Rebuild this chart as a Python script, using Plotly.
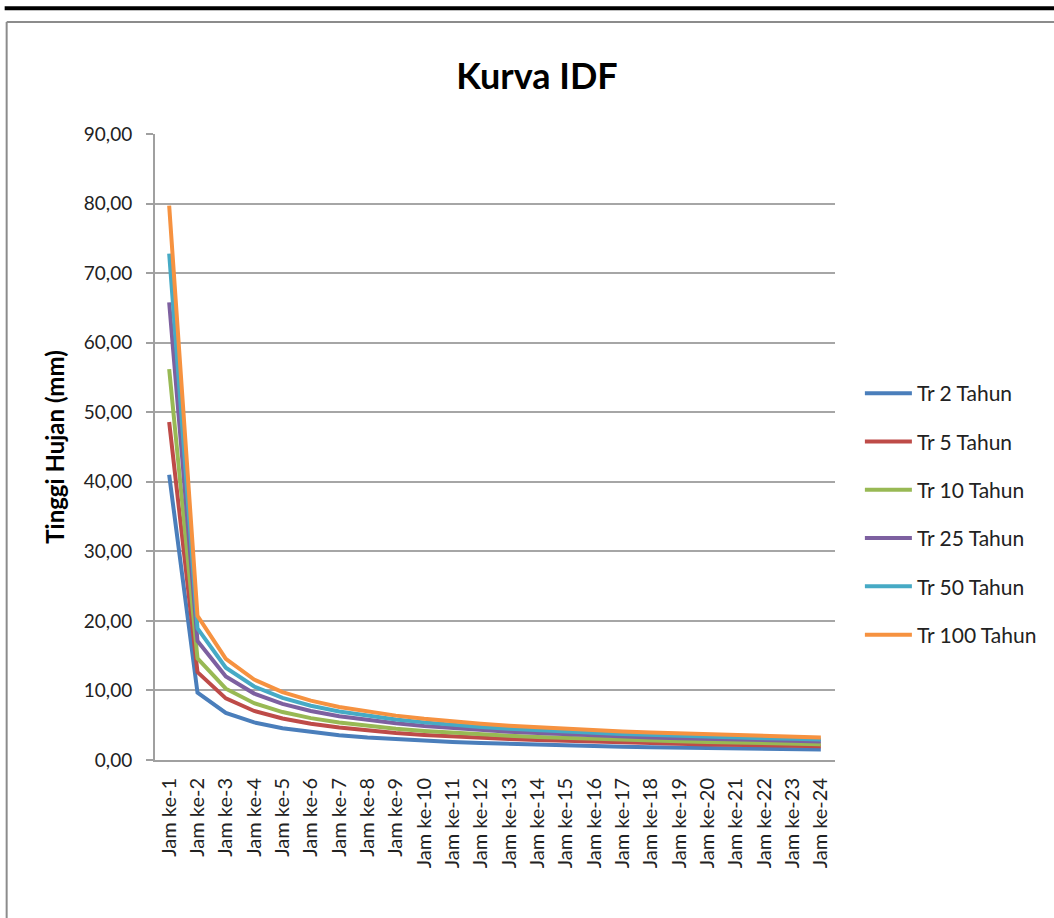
import plotly.graph_objects as go

jam = [f"Jam ke-{i}" for i in range(1, 25)]

tr2 = [41.00, 9.67, 6.78, 5.40, 4.56, 3.99, 3.56, 3.24, 2.98, 2.77, 2.59, 2.43,
       2.30, 2.19, 2.09, 1.99, 1.92, 1.84, 1.77, 1.71, 1.66, 1.60, 1.56, 1.51]
tr5 = [48.60, 12.63, 8.86, 7.05, 5.96, 5.21, 4.66, 4.23, 3.89, 3.61, 3.38, 3.18,
       3.01, 2.86, 2.73, 2.61, 2.50, 2.40, 2.32, 2.24, 2.16, 2.09, 2.03, 1.98]
tr10 = [56.20, 14.61, 10.25, 8.16, 6.89, 6.02, 5.38, 4.89, 4.50, 4.18, 3.91, 3.68,
        3.48, 3.30, 3.15, 3.01, 2.89, 2.78, 2.68, 2.59, 2.50, 2.42, 2.35, 2.28]
tr25 = [65.80, 17.10, 12.00, 9.55, 8.06, 7.05, 6.30, 5.73, 5.27, 4.89, 4.58, 4.31,
        4.07, 3.87, 3.69, 3.53, 3.39, 3.25, 3.14, 3.03, 2.93, 2.84, 2.75, 2.67]
tr50 = [72.80, 18.92, 13.27, 10.57, 8.92, 7.80, 6.97, 6.34, 5.83, 5.41, 5.06, 4.76,
        4.51, 4.28, 4.08, 3.90, 3.75, 3.60, 3.47, 3.35, 3.24, 3.14, 3.05, 2.96]
tr100 = [79.70, 20.72, 14.53, 11.57, 9.77, 8.54, 7.63, 6.94, 6.38, 5.93, 5.54, 5.22,
         4.93, 4.69, 4.47, 4.27, 4.10, 3.94, 3.80, 3.67, 3.55, 3.43, 3.33, 3.24]

series = [
    ("Tr 2 Tahun", tr2, "#4A7EBB"),
    ("Tr 5 Tahun", tr5, "#BE4B48"),
    ("Tr 10 Tahun", tr10, "#98B954"),
    ("Tr 25 Tahun", tr25, "#7D60A0"),
    ("Tr 50 Tahun", tr50, "#46AAC5"),
    ("Tr 100 Tahun", tr100, "#F69240"),
]

FONT = "Lato"

fig = go.Figure()
for name, vals, col in series:
    fig.add_trace(go.Scatter(
        x=jam, y=vals, name=name, mode="lines", legendgroup=name,
        line=dict(color=col, width=4),
    ))

W, H = 1054, 918
L, R, T, B = 155, 838, 134, 760
pw, ph = R - L, B - T


def px(x):
    return (x - L) / pw


def py(y):
    return (B - y) / ph


fig.update_layout(
    width=W, height=H,
    margin=dict(l=L, r=W - R, t=T, b=H - B, pad=0),
    paper_bgcolor="white", plot_bgcolor="white",
    separators=", ",
    font=dict(family=FONT, color="#222"),
    title=dict(text="<b>Kurva IDF</b>", x=537 / W, xanchor="center",
               y=1 - 76 / H, yanchor="middle",
               font=dict(family=FONT, size=36, color="#000")),
    xaxis=dict(
        type="category", range=[-0.5, 23.5],
        showgrid=False, showline=True, linecolor="#A0A0A0", linewidth=2,
        ticks="", tickangle=-90, tickfont=dict(family=FONT, size=20, color="#222"),
        ticklabelstandoff=8,
    ),
    yaxis=dict(
        range=[0, 90], dtick=10, tickformat=".2f",
        showgrid=True, gridcolor="#A6A6A6", gridwidth=2,
        showline=True, linecolor="#A0A0A0", linewidth=2,
        ticks="outside", ticklen=7, tickcolor="#A0A0A0", tickwidth=2,
        tickfont=dict(family=FONT, size=19, color="#222"),
        ticklabelstandoff=10, zeroline=False,
        title=dict(text="<b>Tinggi Hujan (mm)</b>", standoff=12,
                   font=dict(family=FONT, size=24, color="#000")),
    ),
    legend=dict(
        x=px(863), xanchor="left", y=py(373), yanchor="top",
        font=dict(family=FONT, size=21, color="#222"),
        tracegroupgap=18, bgcolor="rgba(0,0,0,0)", itemwidth=47,
    ),
    shapes=[
        dict(type="line", xref="paper", yref="paper",
             x0=px(4), x1=px(1070), y0=py(8.3), y1=py(8.3),
             line=dict(color="#000", width=4)),
        dict(type="line", xref="paper", yref="paper",
             x0=px(6), x1=px(1070), y0=py(22), y1=py(22),
             line=dict(color="#8C8C8C", width=2)),
        dict(type="line", xref="paper", yref="paper",
             x0=px(6), x1=px(6), y0=py(22), y1=py(940),
             line=dict(color="#8C8C8C", width=2)),
    ],
)

fig.write_html(
    "out.html",
    config={"displayModeBar": False},
    post_script="document.body.style.margin='0px';document.body.style.overflow='hidden';",
)
